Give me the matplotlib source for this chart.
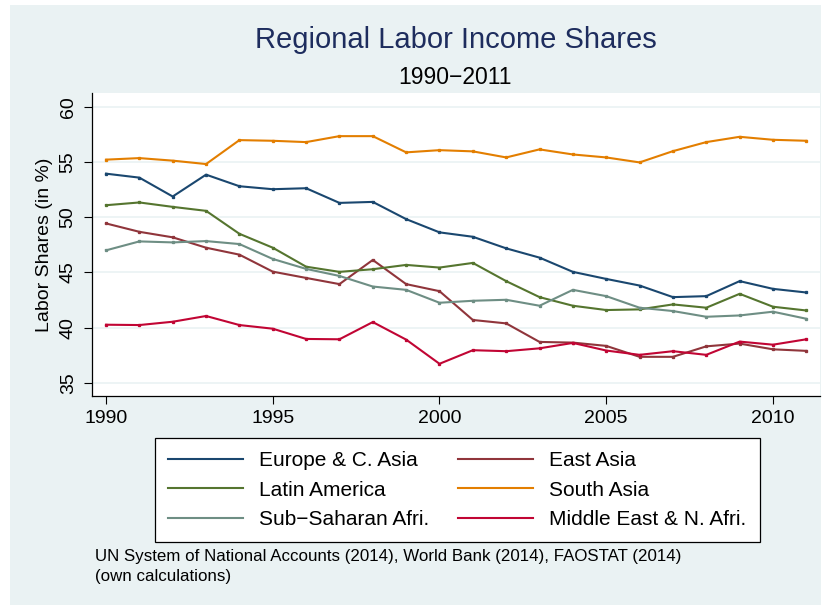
import matplotlib
matplotlib.use("Agg")
import matplotlib.pyplot as plt
from matplotlib.patches import Rectangle

plt.rcParams['font.family'] = ['Liberation Sans', 'DejaVu Sans']

# ---------------- data ----------------
years = list(range(1990, 2012))

europe_c_asia = [53.95, 53.59, 51.88, 53.86, 52.81, 52.54, 52.63, 51.30, 51.39, 49.83, 48.63,
                 48.23, 47.18, 46.34, 45.05, 44.41, 43.81, 42.76, 42.85, 44.21, 43.51, 43.18]
east_asia = [49.44, 48.68, 48.18, 47.24, 46.61, 45.07, 44.50, 43.94, 46.13, 43.94, 43.30,
             40.69, 40.38, 38.70, 38.64, 38.34, 37.35, 37.35, 38.30, 38.55, 38.03, 37.89]
latin_america = [51.09, 51.34, 50.94, 50.58, 48.50, 47.24, 45.52, 45.05, 45.29, 45.68, 45.44,
                 45.86, 44.21, 42.76, 41.98, 41.59, 41.65, 42.10, 41.80, 43.06, 41.89, 41.55]
south_asia = [55.22, 55.36, 55.13, 54.82, 56.99, 56.93, 56.81, 57.35, 57.35, 55.88, 56.08,
              55.97, 55.42, 56.15, 55.69, 55.42, 54.97, 55.99, 56.81, 57.29, 57.02, 56.93]
sub_saharan = [47.00, 47.81, 47.72, 47.84, 47.57, 46.22, 45.32, 44.68, 43.72, 43.42, 42.25,
               42.43, 42.52, 41.98, 43.42, 42.85, 41.80, 41.50, 40.98, 41.10, 41.44, 40.80]
mena = [40.26, 40.23, 40.53, 41.05, 40.23, 39.90, 38.97, 38.94, 40.50, 38.91, 36.72,
        37.95, 37.86, 38.12, 38.61, 37.92, 37.53, 37.86, 37.53, 38.73, 38.45, 38.94]

series = [
    ("Europe & C. Asia", europe_c_asia, "#1a476f"),
    ("East Asia", east_asia, "#90353b"),
    ("Latin America", latin_america, "#55752f"),
    ("South Asia", south_asia, "#e37e00"),
    ("Sub\u2212Saharan Afri.", sub_saharan, "#6e8e84"),
    ("Middle East & N. Afri.", mena, "#c10534"),
]

x_ticks = [1990, 1995, 2000, 2005, 2010]
y_ticks = [35, 40, 45, 50, 55, 60]

# ---------------- figure ----------------
W, H = 825, 609
fig = plt.figure(figsize=(W / 100, H / 100), dpi=100)
fig.patch.set_facecolor("white")

# light stata-like background
fig.patches.append(Rectangle((10 / W, 1 - 605 / H), 811 / W, 600 / H,
                             transform=fig.transFigure, facecolor="#eaf2f3",
                             edgecolor="none", zorder=-1))

ax = fig.add_axes([92 / W, 1 - 396 / H, (820 - 92) / W, (396 - 93) / H])
ax.set_zorder(1)
ax.set_facecolor("white")

lines = {}
for name, vals, col in series:
    ln, = ax.plot(years, vals, color=col, lw=1.5, marker="s", ms=1.4,
                  mec=col, mfc=col, label=name, zorder=3)
    lines[name] = ln

ax.set_xlim(1989.58, 2011.41)
ax.set_ylim(33.8, 61.26)
ax.set_xticks(x_ticks)
ax.set_yticks(y_ticks)
ax.set_yticklabels([str(v) for v in y_ticks], rotation=90, va="center")
ax.tick_params(axis="both", direction="out", length=6, width=0.8, labelsize=14, colors="black")
ax.tick_params(axis="y", pad=5)
ax.tick_params(axis="x", pad=4)

ax.grid(axis="y", color="#eaf2f3", lw=1.2, zorder=1)
ax.set_axisbelow(True)
for s in ["top", "right"]:
    ax.spines[s].set_visible(False)
for s in ["left", "bottom"]:
    ax.spines[s].set_linewidth(0.9)

ax.set_ylabel("Labor Shares (in %)", fontsize=14, labelpad=5)

# titles
fig.text(456 / W, 1 - 40 / H, "Regional Labor Income Shares", ha="center", va="center",
         fontsize=21, color="#1e2d5e")
fig.text(455 / W, 1 - 77 / H, "1990\u22122011", ha="center", va="center",
         fontsize=16.5, color="black")

# legend (row-wise order like stata)
order = ["Europe & C. Asia", "Latin America", "Sub\u2212Saharan Afri.",
         "East Asia", "South Asia", "Middle East & N. Afri."]
handles = []
for nm in order:
    h, = ax.plot([], [], color=lines[nm].get_color(), lw=1.5)
    handles.append(h)
leg = fig.legend(handles, order, ncol=2, loc="center",
                 bbox_to_anchor=(457 / W, 1 - 490 / H), fontsize=15,
                 frameon=True, fancybox=False, edgecolor="black", facecolor="white",
                 framealpha=1, handlelength=3.6, columnspacing=1.4, labelspacing=0.5,
                 borderpad=0.65, handletextpad=0.75)
leg.get_frame().set_linewidth(0.9)

# source note
fig.text(95 / W, 1 - 557 / H, "UN System of National Accounts (2014), World Bank (2014), FAOSTAT (2014)",
         ha="left", va="center", fontsize=12.2)
fig.text(95 / W, 1 - 577 / H, "(own calculations)", ha="left", va="center", fontsize=12.2)

fig.savefig("out.png", dpi=100, facecolor=fig.get_facecolor())
